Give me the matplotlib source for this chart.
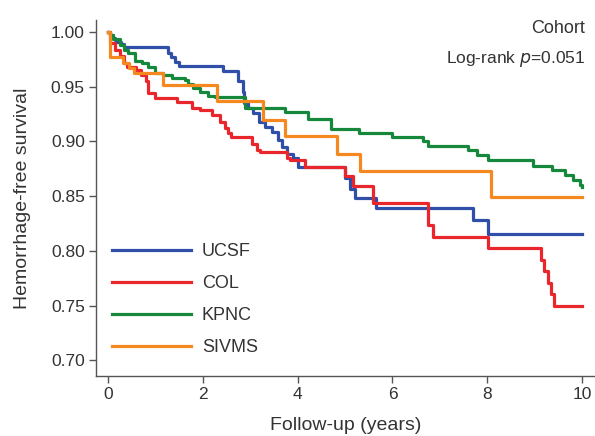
"""
Kaplan-Meier style hemorrhage-free survival by cohort (step curves).
"""

import matplotlib
matplotlib.use("Agg")
import matplotlib.pyplot as plt

plt.rcParams["font.family"] = ["Liberation Sans", "DejaVu Sans"]

TEXT = "#333333"
AXIS = "#555555"

COHORTS = ["UCSF", "COL", "KPNC", "SIVMS"]
COLORS = {"UCSF": "#2f4fa8", "COL": "#e8262b", "KPNC": "#16883c", "SIVMS": "#f5891f"}

# follow-up time (years) at each event, survival right after it
ucsf_t = [0, 0.04, 0.10, 0.15, 0.20, 0.27, 0.35, 1.27, 1.34, 1.41, 1.50, 2.43, 2.74, 2.84,
          2.88, 2.95, 3.06, 3.19, 3.31, 3.46, 3.59, 3.67, 3.78, 3.90, 4.01, 5.00, 5.10,
          5.21, 5.65, 7.70, 8.02, 10.0]
ucsf_s = [1.0, 0.997, 0.995, 0.993, 0.991, 0.989, 0.986, 0.981, 0.977, 0.973, 0.969, 0.964,
          0.955, 0.945, 0.935, 0.931, 0.926, 0.918, 0.913, 0.909, 0.901, 0.895, 0.889, 0.885,
          0.877, 0.867, 0.857, 0.848, 0.839, 0.828, 0.815, 0.815]

col_t = [0, 0.05, 0.15, 0.25, 0.35, 0.40, 0.60, 0.70, 0.80, 0.85, 0.99, 1.45, 1.77, 1.95,
         2.19, 2.36, 2.47, 2.53, 2.60, 3.04, 3.14, 3.20, 3.78, 3.84, 4.15, 5.00, 5.17, 5.60,
         6.75, 6.85, 8.02, 9.13, 9.20, 9.28, 9.35, 9.41, 10.0]
col_s = [1.0, 0.990, 0.984, 0.978, 0.972, 0.968, 0.965, 0.961, 0.955, 0.944, 0.940, 0.936,
         0.931, 0.929, 0.924, 0.918, 0.912, 0.908, 0.904, 0.898, 0.892, 0.890, 0.885, 0.883,
         0.877, 0.868, 0.859, 0.844, 0.824, 0.813, 0.803, 0.792, 0.782, 0.771, 0.761, 0.750,
         0.750]

kpnc_t = [0, 0.05, 0.11, 0.25, 0.35, 0.43, 0.57, 0.71, 0.85, 0.99, 1.17, 1.35, 1.63, 1.69,
          1.80, 1.94, 2.11, 2.26, 2.89, 3.73, 4.22, 4.70, 5.30, 6.00, 6.65, 6.75, 7.60, 7.78,
          8.02, 8.97, 9.37, 9.64, 9.81, 9.95, 10.0]
kpnc_s = [1.0, 0.997, 0.994, 0.988, 0.984, 0.981, 0.974, 0.972, 0.968, 0.963, 0.961, 0.958,
          0.956, 0.953, 0.949, 0.945, 0.942, 0.941, 0.931, 0.927, 0.921, 0.911, 0.908, 0.904,
          0.900, 0.896, 0.892, 0.888, 0.883, 0.878, 0.874, 0.869, 0.865, 0.860, 0.858]

sivms_t = [0, 0.04, 0.32, 0.45, 0.55, 1.16, 2.30, 3.27, 3.73, 4.83, 5.32, 8.08, 10.0]
sivms_s = [1.0, 0.977, 0.972, 0.967, 0.963, 0.952, 0.937, 0.920, 0.905, 0.889, 0.873, 0.849,
           0.849]

CURVES = {
    "UCSF": (ucsf_t, ucsf_s),
    "COL": (col_t, col_s),
    "KPNC": (kpnc_t, kpnc_s),
    "SIVMS": (sivms_t, sivms_s),
}

x_ticks = [0, 2, 4, 6, 8, 10]
y_ticks = [0.70, 0.75, 0.80, 0.85, 0.90, 0.95, 1.00]


def make_plot():
    fig = plt.figure(figsize=(5.95, 4.36), dpi=100)
    ax = fig.add_axes([0.1613, 0.1376, 0.8387, 0.8164])

    for name in COHORTS:
        t, s = CURVES[name]
        ax.step(t, s, where="post", color=COLORS[name], lw=2.3, label=name)

    ax.set_xlim(-0.25, 10.27)
    ax.set_ylim(0.6856, 1.011)
    ax.set_xticks(x_ticks)
    ax.set_yticks(y_ticks)
    ax.set_yticklabels([f"{v:.2f}" for v in y_ticks])

    for side in ("top", "right"):
        ax.spines[side].set_visible(False)
    for side in ("left", "bottom"):
        ax.spines[side].set_color(AXIS)
        ax.spines[side].set_linewidth(1.0)
    ax.tick_params(colors=AXIS, labelcolor=TEXT, labelsize=12.5, length=5, width=1.0, pad=3)

    ax.set_xlabel("Follow-up (years)", fontsize=14, color=TEXT, labelpad=11)
    ax.set_ylabel("Hemorrhage-free survival", fontsize=14, color=TEXT, labelpad=14)

    ax.text(0.983, 0.924, "Cohort", transform=fig.transFigure, ha="right", va="baseline",
            fontsize=13, color=TEXT)
    ax.text(0.983, 0.855, "Log-rank $\\it{p}$=0.051", transform=fig.transFigure,
            ha="right", va="baseline", fontsize=12.5, color=TEXT)

    leg = ax.legend(loc="lower left", bbox_to_anchor=(0.017, 0.035), frameon=False,
                    fontsize=13, handlelength=4.4, handletextpad=0.6, labelspacing=0.84,
                    borderaxespad=0.0)
    for txt in leg.get_texts():
        txt.set_color(TEXT)

    fig.savefig("out.png", dpi=100)
    plt.close(fig)


if __name__ == "__main__":
    make_plot()
